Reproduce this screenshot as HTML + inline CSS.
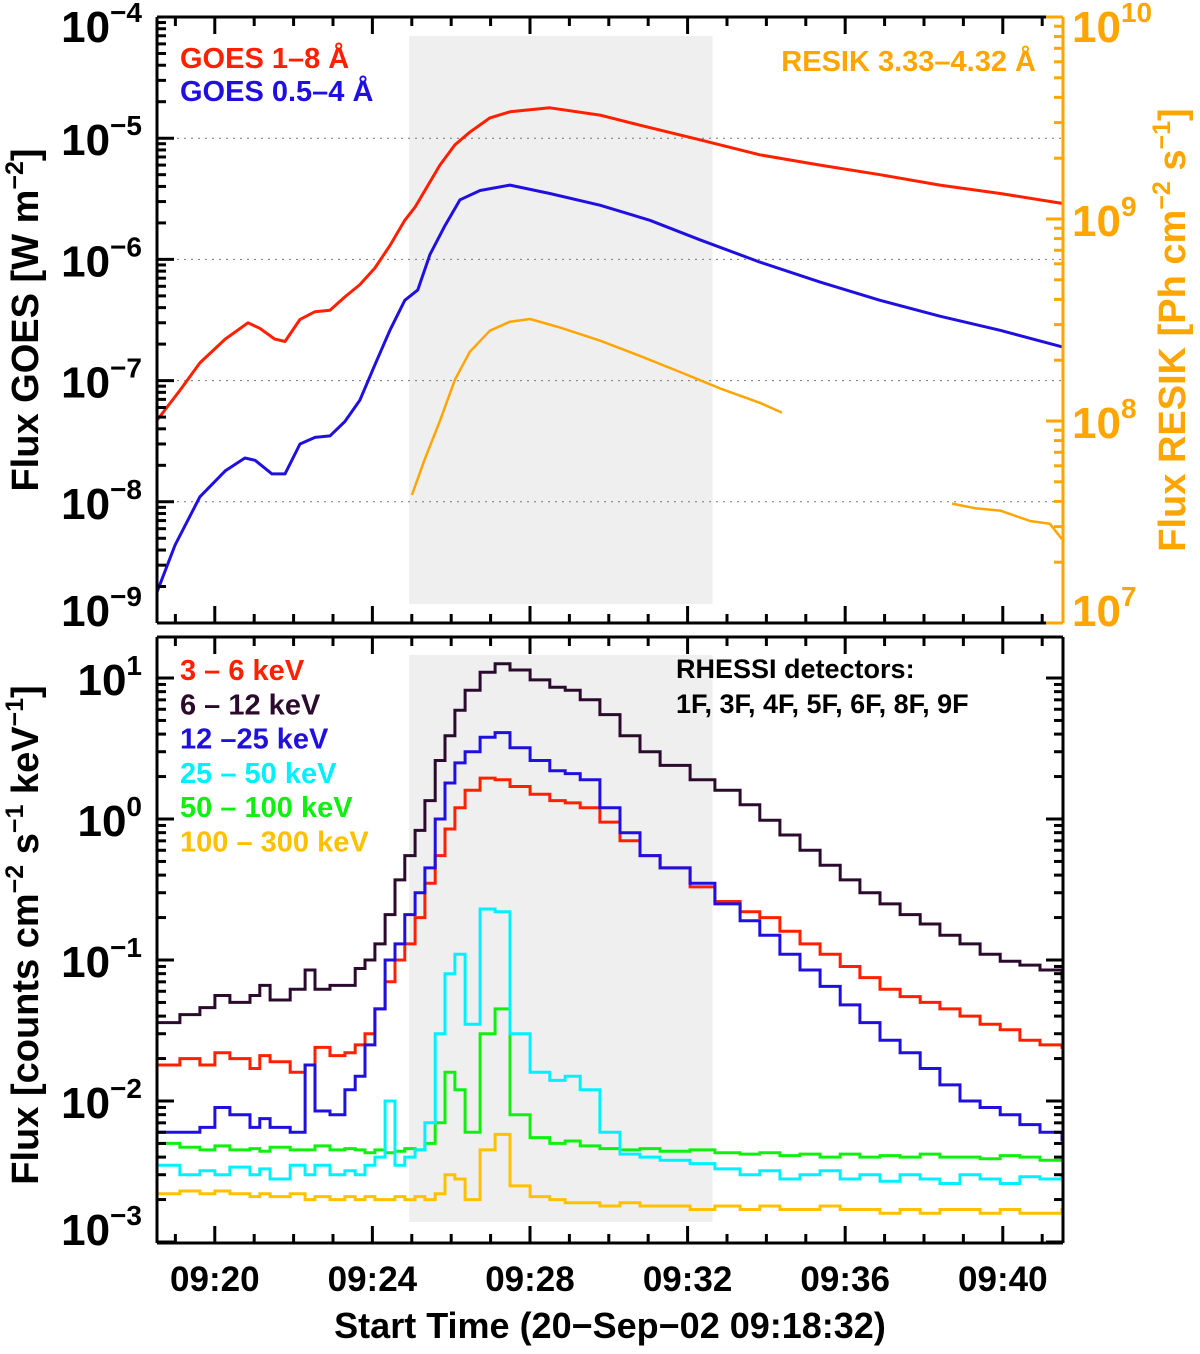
<!DOCTYPE html>
<html><head><meta charset="utf-8"><style>
html,body{margin:0;padding:0;background:#fff;}
svg{display:block;font-family:"Liberation Sans",Arial,sans-serif;font-weight:bold;}
</style></head><body>
<svg id="chart" width="1200" height="1354" viewBox="0 0 1200 1354" xmlns="http://www.w3.org/2000/svg"></svg>
<script>
// ---------- Top panel data (time in minutes after 09:18:32) ----------
const goesLongT=[0,.58,1.09,1.73,2.31,2.61,2.99,3.25,3.63,4.01,4.39,4.77,5.15,5.53,5.91,6.29,6.55,6.80,7.18,7.56,7.94,8.45,8.96,9.97,11.24,12.26,13.78,15.30,16.83,18.35,19.87,21.40,22.97];
const goesLongV=[4.7e-8,8.3e-8,1.4e-7,2.2e-7,3.0e-7,2.7e-7,2.2e-7,2.1e-7,3.2e-7,3.7e-7,3.8e-7,4.9e-7,6.2e-7,8.5e-7,1.3e-6,2.1e-6,2.7e-6,3.7e-6,6.0e-6,8.8e-6,1.12e-5,1.47e-5,1.65e-5,1.78e-5,1.55e-5,1.28e-5,9.7e-6,7.3e-6,6.0e-6,5.0e-6,4.1e-6,3.5e-6,2.9e-6];
const goesShortT=[0,.46,1.09,1.73,2.23,2.49,2.92,3.25,3.63,4.01,4.39,4.77,5.15,5.53,5.91,6.29,6.62,6.93,7.31,7.69,8.20,8.96,9.97,11.24,12.51,13.78,15.30,16.83,18.35,19.87,21.40,22.97];
const goesShortV=[1.8e-9,4.4e-9,1.1e-8,1.8e-8,2.3e-8,2.2e-8,1.7e-8,1.7e-8,3.0e-8,3.4e-8,3.5e-8,4.6e-8,6.9e-8,1.35e-7,2.6e-7,4.6e-7,5.6e-7,1.1e-6,1.9e-6,3.1e-6,3.7e-6,4.1e-6,3.5e-6,2.8e-6,2.1e-6,1.45e-6,9.5e-7,6.5e-7,4.6e-7,3.4e-7,2.6e-7,1.9e-7];
const resikT=[6.47,6.80,7.18,7.56,7.94,8.45,8.96,9.47,10.23,11.24,12.26,13.27,14.29,15.30,15.86,null,20.18,20.76,21.40,22.16,22.66,22.97];
const resikV=[4.3e7,6.5e7,1.0e8,1.6e8,2.2e8,2.8e8,3.1e8,3.2e8,2.9e8,2.5e8,2.1e8,1.75e8,1.45e8,1.23e8,1.1e8,null,3.9e7,3.7e7,3.6e7,3.2e7,3.1e7,2.6e7];
// ---------- Bottom panel data ----------
const rhT=[0,.58,1.09,1.47,1.85,2.36,2.61,2.87,3.38,3.76,4.01,4.39,4.77,5.03,5.28,5.53,5.79,6.04,6.29,6.55,6.80,7.06,7.31,7.56,7.82,8.20,8.58,8.96,9.47,9.97,10.36,10.74,11.24,11.75,12.26,12.77,13.53,14.16,14.80,15.30,15.81,16.32,16.83,17.34,17.84,18.35,18.86,19.37,19.87,20.38,20.89,21.40,21.90,22.41,22.97];
const rh3_6=[.018,.020,.018,.022,.020,.017,.021,.019,.016,.018,.024,.021,.022,.025,.03,.045,.07,.10,.13,.20,.35,.55,.85,1.2,1.6,1.95,1.9,1.7,1.5,1.35,1.3,1.2,.95,.7,.55,.45,.33,.26,.22,.2,.16,.13,.11,.09,.075,.062,.055,.05,.045,.04,.035,.032,.027,.025,.024];
const rh6_12=[.036,.041,.046,.056,.050,.056,.066,.052,.062,.085,.062,.066,.066,.087,.10,.13,.21,.37,.55,.83,1.35,2.6,3.9,5.9,8.2,11.0,12.6,11.4,9.7,8.6,8.2,7.0,5.5,3.9,3.0,2.4,1.9,1.6,1.26,.98,.77,.60,.47,.37,.30,.25,.21,.18,.15,.13,.11,.098,.092,.085,.074];
const rh12_25=[.006,.006,.0065,.009,.008,.0065,.0075,.0065,.006,.018,.0085,.008,.012,.015,.025,.045,.10,.13,.21,.30,.45,1.0,1.8,2.5,3.0,3.8,4.1,3.2,2.6,2.2,2.1,1.9,1.2,.8,.55,.45,.35,.25,.19,.15,.11,.085,.065,.048,.036,.027,.022,.017,.013,.010,.009,.008,.0068,.006,.0053];
const rh25_50=[.0035,.003,.0032,.003,.0034,.003,.0033,.0028,.0035,.003,.0035,.003,.0032,.003,.0035,.004,.010,.0035,.004,.0045,.007,.03,.08,.11,.035,.23,.22,.03,.016,.014,.015,.012,.006,.0042,.004,.0038,.0036,.0033,.003,.0032,.0028,.003,.0032,.0028,.003,.0027,.003,.0028,.0026,.003,.0028,.0026,.0029,.0028,.003];
const rh50_100=[.005,.0047,.0045,.0048,.0045,.0046,.0044,.0047,.0045,.0045,.0048,.0045,.0046,.0045,.0043,.0045,.0043,.0044,.0046,.0045,.005,.007,.016,.012,.006,.03,.045,.008,.0055,.005,.0052,.0048,.0046,.0045,.0046,.0044,.0045,.0043,.0042,.0043,.0041,.0042,.004,.0042,.004,.0041,.004,.0042,.004,.004,.0039,.0041,.004,.0038,.004];
const rh100_300=[.0022,.0023,.0022,.0023,.0022,.0021,.0022,.0021,.0022,.002,.0021,.002,.0021,.002,.0021,.002,.002,.0021,.002,.0021,.002,.0022,.003,.0028,.002,.0045,.0058,.0025,.0021,.002,.0019,.0019,.0018,.0019,.0018,.0018,.0017,.0018,.0017,.0018,.0017,.0017,.0018,.0017,.0017,.0016,.0017,.0016,.0017,.0017,.0016,.0017,.0016,.0016,.0017];
const timeTickLabels=["09:20","09:24","09:28","09:32","09:36","09:40"];
const timeTickMinutes=[1.467,5.467,9.467,13.467,17.467,21.467];
const goesDecades=[-9,-8,-7,-6,-5,-4];
const resikDecades=[7,8,9,10];
const rhDecades=[-3,-2,-1,0,1];

const NS="http://www.w3.org/2000/svg";
const svg=document.getElementById('chart');
function el(tag,attrs,parent){const e=document.createElementNS(NS,tag);for(const k in attrs)e.setAttribute(k,attrs[k]);(parent||svg).appendChild(e);return e;}
const X0=157,X1=1063,PXMIN=39.4;
const xs=t=>X0+t*PXMIN;
const T_END=(X1-X0)/PXMIN;
const yGoes=v=>17+(-4-Math.log10(v))*121.2;
const yResik=v=>17+(10-Math.log10(v))*202;
const yRh=v=>678+(1-Math.log10(v))*141;
const TOP0=17,TOP1=623,BOT0=637,BOT1=1243;

const sh1=el('rect',{x:xs(6.4),y:36,width:xs(14.1)-xs(6.4),height:568,fill:'#efefef'});


const sh2=el('rect',{x:xs(6.4),y:655,width:xs(14.1)-xs(6.4),height:567,fill:'#efefef'});



[-5,-6,-7,-8].forEach(d=>{const g=el('line',{x1:170,x2:X1,y1:yGoes(Math.pow(10,d)),y2:yGoes(Math.pow(10,d)),stroke:'#777','stroke-width':1,'stroke-dasharray':'2,5'});

});

function line(T,V,yf,color,name,w){
  let segs=[],cur=[];
  T.forEach((t,i)=>{if(t===null){if(cur.length)segs.push(cur);cur=[];}else cur.push(xs(t).toFixed(1)+','+yf(V[i]).toFixed(1));});
  if(cur.length)segs.push(cur);
  segs.forEach(s=>{const p=el('polyline',{points:s.join(' '),fill:'none',stroke:color,'stroke-width':w||3,'stroke-linejoin':'round'});
  
  });
}
function steps(T,V,yf,color,name){
  let pts=[];
  T.forEach((t,i)=>{const x0=xs(t),x1=i<T.length-1?xs(T[i+1]):X1;const y=yf(V[i]).toFixed(1);pts.push(x0.toFixed(1)+','+y,x1.toFixed(1)+','+y);});
  const p=el('polyline',{points:pts.join(' '),fill:'none',stroke:color,'stroke-width':3});
  
  
}
line(goesLongT,goesLongV,yGoes,'#ff2000','goes-1-8-line');
line(goesShortT,goesShortV,yGoes,'#2010e0','goes-05-4-line');
line(resikT,resikV,yResik,'#ffa500','resik-line',2.5);
steps(rhT,rh100_300,yRh,'#ffc000','rhessi-100-300-line');
steps(rhT,rh50_100,yRh,'#10f010','rhessi-50-100-line');
steps(rhT,rh25_50,yRh,'#00f0ff','rhessi-25-50-line');
steps(rhT,rh3_6,yRh,'#ff2000','rhessi-3-6-line');
steps(rhT,rh12_25,yRh,'#2010e0','rhessi-12-25-line');
steps(rhT,rh6_12,yRh,'#2b0a2e','rhessi-6-12-line');

function frame(y0,y1,name,rightColor){
  const g=el('g',{});
  
  
  el('line',{x1:X0,x2:X1,y1:y0,y2:y0,stroke:'#000','stroke-width':3},g);
  el('line',{x1:X0,x2:X1,y1:y1,y2:y1,stroke:'#000','stroke-width':3},g);
  el('line',{x1:X0,x2:X0,y1:y0,y2:y1,stroke:'#000','stroke-width':3},g);
  el('line',{x1:X1,x2:X1,y1:y0,y2:y1,stroke:rightColor,'stroke-width':3},g);
  for(let m=0;m<=23;m++){const t=m+28/60;if(t>T_END)break;const x=xs(t);const major=(m%4===1);const L=major?17:9;
    el('line',{x1:x,x2:x,y1:y0,y2:y0+L,stroke:'#000','stroke-width':3},g);
    el('line',{x1:x,x2:x,y1:y1,y2:y1-L,stroke:'#000','stroke-width':3},g);}
  return g;
}
const f1=frame(TOP0,TOP1,'top-panel-frame','#ffa500');
const f2=frame(BOT0,BOT1,'bottom-panel-frame','#000');
function logTicks(yf,d0,d1,x,dir,color,ymin,ymax,g){
  for(let d=d0;d<=d1;d++)for(let k=1;k<10;k++){const v=k*Math.pow(10,d);const y=yf(v);if(y<ymin-0.5||y>ymax+0.5)continue;const L=k===1?17:9;
    el('line',{x1:x,x2:x+dir*L,y1:y,y2:y,stroke:color,'stroke-width':3},g);}
}
logTicks(yGoes,-9,-4,X0,1,'#000',TOP0,TOP1,f1);
logTicks(yResik,7,10,X1,-1,'#ffa500',TOP0,TOP1,f1);
logTicks(yRh,-3,1,X0,1,'#000',BOT0,BOT1,f2);
logTicks(yRh,-3,1,X1,-1,'#000',BOT0,BOT1,f2);

function txt(x,y,s,opts,name){const t=el('text',Object.assign({x:x,y:y},opts));t.innerHTML=s;
  
  return t;}
function shift(y,lo,hi){if(y<lo)return 8;if(y>hi)return -14;return 0;}
goesDecades.forEach(d=>{const y=yGoes(Math.pow(10,d));txt(142,y+17+shift(y,30,600),'10<tspan dy="-20" font-size="28">'+(d<0?'\u2212':'')+Math.abs(d)+'</tspan>',{'font-size':44,'text-anchor':'end'},'goes-y-tick-label');});
resikDecades.forEach(d=>{const y=yResik(Math.pow(10,d));txt(1072,y+17+shift(y,30,600),'10<tspan dy="-20" font-size="28">'+d+'</tspan>',{'font-size':44,fill:'#ffa500'},'resik-y-tick-label');});
rhDecades.forEach(d=>{const y=yRh(Math.pow(10,d));txt(142,y+17+shift(y,650,1220),'10<tspan dy="-20" font-size="28">'+(d<0?'\u2212':'')+Math.abs(d)+'</tspan>',{'font-size':44,'text-anchor':'end'},'rhessi-y-tick-label');});
timeTickLabels.forEach((s,i)=>{txt(xs(timeTickMinutes[i]),1291,s,{'font-size':35,'text-anchor':'middle'},'x-tick-label');});
txt(610,1338,'Start Time (20\u2212Sep\u221202 09:18:32)',{'font-size':36,'text-anchor':'middle'},'x-axis-title');
txt(0,0,'Flux GOES [W m<tspan dy="-15" font-size="25">\u22122</tspan><tspan dy="15">]</tspan>',{'font-size':38,'text-anchor':'middle',transform:'translate(38,320) rotate(-90)'},'goes-y-axis-title');
txt(0,0,'Flux RESIK [Ph cm<tspan dy="-15" font-size="25">\u22122</tspan><tspan dy="15"> s</tspan><tspan dy="-15" font-size="25">\u22121</tspan><tspan dy="15">]</tspan>',{'font-size':38,'text-anchor':'middle',fill:'#ffa500',transform:'translate(1185,330) rotate(-90)'},'resik-y-axis-title');
txt(0,0,'Flux [counts cm<tspan dy="-15" font-size="25">\u22122</tspan><tspan dy="15"> s</tspan><tspan dy="-15" font-size="25">\u22121</tspan><tspan dy="15"> keV</tspan><tspan dy="-15" font-size="25">\u22121</tspan><tspan dy="15">]</tspan>',{'font-size':38,'text-anchor':'middle',transform:'translate(38,935) rotate(-90)'},'rhessi-y-axis-title');
txt(180,68,'GOES 1\u20138 \u00c5',{'font-size':29,fill:'#ff2000'},'legend-goes-1-8');
txt(180,101,'GOES 0.5\u20134 \u00c5',{'font-size':29,fill:'#2010e0'},'legend-goes-05-4');
txt(1036,71,'RESIK 3.33\u20134.32 \u00c5',{'font-size':29,fill:'#ffa500','text-anchor':'end'},'legend-resik');
const leg=[['3 \u2013 6 keV','#ff2000'],['6 \u2013 12 keV','#2b0a2e'],['12 \u201325 keV','#2010e0'],['25 \u2013 50 keV','#00f0ff'],['50 \u2013 100 keV','#10f010'],['100 \u2013 300 keV','#ffc000']];
leg.forEach((l,i)=>{txt(180,680+i*34.3,l[0],{'font-size':29,fill:l[1]},'legend-rhessi-band');});
txt(676,678,'RHESSI detectors:',{'font-size':27},'rhessi-detectors-label');
txt(676,713,'1F, 3F, 4F, 5F, 6F, 8F, 9F',{'font-size':27},'rhessi-detectors-list');
</script>
</body></html>
